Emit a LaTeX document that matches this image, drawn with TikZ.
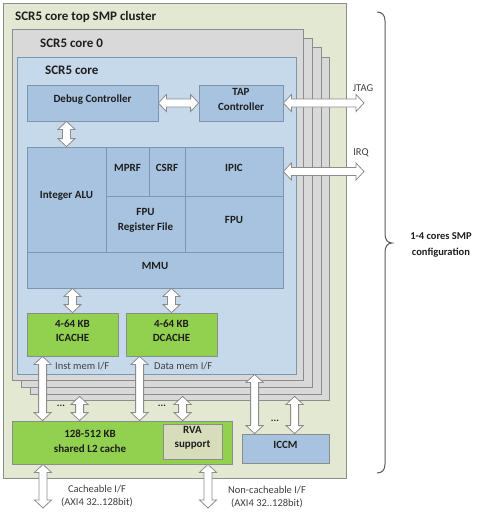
\documentclass[tikz,border=0pt]{standalone}
\usepackage{fontspec}
\setmainfont{Carlito}
\usetikzlibrary{calc,fit}
\definecolor{clusterbg}{HTML}{E3E8D3}
\definecolor{coregray}{HTML}{D9D9D9}
\definecolor{coreblue}{HTML}{C6D9EB}
\definecolor{blockblue}{HTML}{A7C3DF}
\definecolor{cachegreen}{HTML}{92D050}
\definecolor{rvafill}{HTML}{D7DDBA}
\definecolor{edgegray}{HTML}{8C8C8C}
\definecolor{blockedge}{HTML}{7F95AD}
\definecolor{textdark}{HTML}{1E1E1E}
\definecolor{labgray}{HTML}{404040}
\definecolor{bracegray}{HTML}{5A5A5A}
\newlength\arhw \setlength\arhw{8.5pt}
\newlength\arsw \setlength\arsw{4pt}
\newlength\arhl \setlength\arhl{8pt}
\newcommand\varr[2]{\draw[barrow] let \p1=#1, \p2=#2 in
  (\x1,\y1) -- (\x1+\arhw,\y1-\arhl) -- (\x1+\arsw,\y1-\arhl) -- (\x1+\arsw,\y2+\arhl) -- (\x1+\arhw,\y2+\arhl) -- (\x1,\y2)
  -- (\x1-\arhw,\y2+\arhl) -- (\x1-\arsw,\y2+\arhl) -- (\x1-\arsw,\y1-\arhl) -- (\x1-\arhw,\y1-\arhl) -- cycle;}
\newcommand\harr[2]{\draw[barrow] let \p1=#1, \p2=#2 in
  (\x1,\y1) -- (\x1+\arhl,\y1+\arhw) -- (\x1+\arhl,\y1+\arsw) -- (\x2-\arhl,\y1+\arsw) -- (\x2-\arhl,\y1+\arhw) -- (\x2,\y1)
  -- (\x2-\arhl,\y1-\arhw) -- (\x2-\arhl,\y1-\arsw) -- (\x1+\arhl,\y1-\arsw) -- (\x1+\arhl,\y1-\arhw) -- cycle;}
\begin{document}
\begin{tikzpicture}[x=1pt,y=-1pt,
  area/.style={draw=edgegray, line width=0.8pt, inner sep=0pt},
  block/.style={draw=blockedge, fill=blockblue, line width=0.8pt, inner sep=0pt,
    font=\bfseries\fontsize{11}{14.5}\selectfont, text=textdark, align=center},
  gbox/.style={block, draw=edgegray, fill=cachegreen},
  barrow/.style={draw=edgegray, fill=white, line width=0.8pt, line join=miter},
  ttl/.style={font=\bfseries\fontsize{13}{15}\selectfont, text=textdark, anchor=base west, inner sep=0pt},
  lab/.style={font=\fontsize{10.5}{13}\selectfont, text=labgray, inner sep=0pt, align=center},
  dots/.style={font=\bfseries\fontsize{10}{12}\selectfont, text=textdark, inner sep=0pt}]
\useasboundingbox[fill=white] (0,0) rectangle (480,515);
% cluster
\node[area, fill=clusterbg, fit={(3,3) (346,478)}] (cluster) {};
\node[ttl] (clustertitle) at (15,20) {SCR5 core top SMP cluster};
% stacked cores
\node[area, fill=coregray, fit={(39,57) (329,400)}] (core3) {};
\node[area, fill=coregray, fit={(30,47) (321,394)}] (core2) {};
\node[area, fill=coregray, fit={(21,38) (312,387)}] (core1) {};
\node[area, fill=coregray, fit={(12,29) (303,380)}] (core0) {};
\node[ttl] (core0title) at (40,47) {SCR5 core 0};
\node[area, draw=blockedge, fill=coreblue, fit={(17,57) (296,374)}] (core) {};
\node[ttl] (coretitle) at (45,74) {SCR5 core};
% blocks
\node[block, fit={(27,85) (158,121)}] (debug) {Debug Controller};
\node[block, fit={(199,85) (283,121)}] (tap) {TAP\\Controller};
\node[block, fit={(27,147) (106,252)}] (alu) {Integer ALU};
\node[block, fit={(106,147) (149,196)}] (mprf) {MPRF};
\node[block, fit={(149,147) (185,196)}] (csrf) {CSRF};
\node[block, fit={(185,147) (283,196)}] (ipic) {IPIC};
\node[block, fit={(106,196) (185,252)}] (fpurf) {FPU\\Register File};
\node[block, fit={(185,196) (283,252)}] (fpu) {FPU};
\node[block, fit={(27,252) (283,288)}] (mmu) {MMU};
\node[gbox, fit={(27,313) (118,356)}] (icache) {4-64 KB\\ICACHE};
\node[gbox, fit={(126,313) (217,356)}] (dcache) {4-64 KB\\DCACHE};
\node[lab, anchor=west] (instif) at (55,366) {Inst mem I/F};
\node[lab, anchor=west] (dataif) at (154,366) {Data mem I/F};
% L2 and ICCM
\node[gbox, fit={(12,421) (232,464)}] (l2) {};
\node[font=\bfseries\fontsize{11}{15.5}\selectfont, text=textdark, align=center, inner sep=0pt] (l2text) at (90,441) {128-512 KB\\shared L2 cache};
\node[block, draw=edgegray, fill=rvafill, fit={(163,424) (222,459)}] (rva) {RVA\\support};
\node[block, draw=edgegray, fill=blockblue, fit={(242,434) (329,463)}] (iccm) {ICCM};
% arrows inside the core
\harr{(debug.east)}{(tap.west)}
\varr{(debug.south -| alu.north)}{(alu.north)}
\varr{(mmu.south -| icache.north)}{(icache.north)}
\varr{(mmu.south -| dcache.north)}{(dcache.north)}
% external JTAG / IRQ
\coordinate (jtag) at (364,103);
\coordinate (irq) at (364,171.5);
\harr{(tap.east)}{(jtag)}
\harr{(ipic.east)}{(irq)}
\node[lab] (jtaglab) at (363,88) {JTAG};
\node[lab] (irqlab) at (361,153) {IRQ};
% memory arrows
\coordinate (ia) at ($(icache.south west)+(16,0)$);
\coordinate (da) at ($(dcache.south west)+(14,0)$);
\coordinate (s1) at ($(core3.south west)+(41,-4)$);
\coordinate (s2) at ($(core3.south west)+(144,-4)$);
\varr{(ia)}{(ia |- l2.north)}
\varr{(s1)}{(s1 |- l2.north)}
\varr{(da)}{(da |- l2.north)}
\varr{(s2)}{(s2 |- l2.north)}
\node[dots] (dots1) at (61,406) {...};
\node[dots] (dots2) at (162,406) {...};
\coordinate (ic1) at ($(iccm.north west)+(13,0)$);
\coordinate (ic2) at ($(iccm.north west)+(53,0)$);
\coordinate (ic2top) at ($(core3.south -| ic2)+(0,-4)$);
\varr{(core.south -| ic1)}{(ic1)}
\varr{(ic2top)}{(ic2)}
\node[dots] (dots3) at (275,421) {...};
% outgoing interfaces
\coordinate (cout) at (43,508);
\coordinate (ncout) at (208,508);
\varr{(l2.south -| cout)}{(cout)}
\varr{(l2.south -| ncout)}{(ncout)}
\node[lab] (cachif) at (97,496) {Cacheable I/F\\(AXI4 32..128bit)};
\node[lab] (ncachif) at (267,497) {Non-cacheable I/F\\(AXI4 32..128bit)};
% brace
\draw[bracegray, line width=1pt] (377,12) .. controls (382,12) and (385,15) .. (385,21) -- (385,234)
  .. controls (385,240) and (388,243) .. (392,243) .. controls (388,243) and (385,246) .. (385,252)
  -- (385,464) .. controls (385,470) and (382,473) .. (377,473);
\node[font=\bfseries\fontsize{10.5}{16}\selectfont, text=textdark, align=center, inner sep=0pt] (smp) at (441,245) {1-4 cores SMP\\configuration};
\end{tikzpicture}
\end{document}
